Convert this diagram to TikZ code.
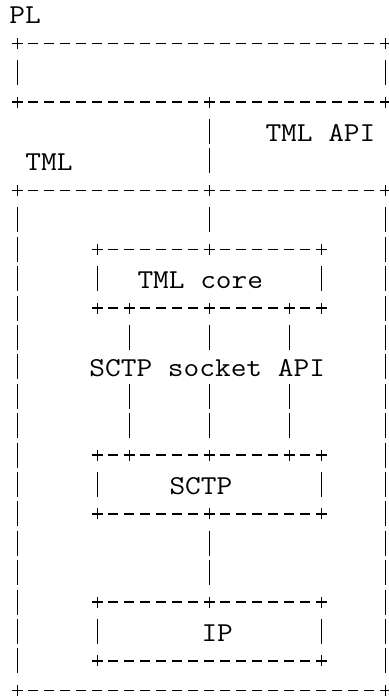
\documentclass[tikz,border=0pt]{standalone}
\usepackage{fontspec}
\usepackage{graphicx}
\usetikzlibrary{calc}
\usetikzlibrary{positioning}

\newcommand{\ascii}[1]{\scalebox{1.1165}[1]{#1}}

\tikzset{
  layerbox/.style={rectangle, draw=none, inner sep=0pt, outer sep=0pt},
  hbar/.style={line width=1.4pt, dash pattern=on 10pt off 6pt, shorten <=11pt, shorten >=11pt},
  vbar/.style={line width=1.4pt, dash pattern=on 25pt off 4.4pt, shorten <=16.9pt, shorten >=16.9pt},
  asciitext/.style={anchor=base west, inner sep=0pt, font=\ttfamily\fontsize{27.3pt}{29.4pt}\selectfont},
  junction/.pic={\draw [line width=1.4pt] (-5.5pt,0) -- (5.5pt,0) (0,-5.5pt) -- (0,5.5pt);},
}

\begin{document}
\begin{tikzpicture}[x=16pt, y=-29.4pt]
  \useasboundingbox (-1.081,-0.476) rectangle (23.169,23.231);

  % Layers:
  \node [layerbox, minimum width=368pt, minimum height=58.8pt] (pl) at (11.5,2) {};
  \node [layerbox, minimum width=368pt, minimum height=499.8pt] (tml) at (11.5,14.5) {};
  \node [layerbox, minimum width=224pt, minimum height=58.8pt] (core) at (12,9) {};
  \node [layerbox, minimum width=224pt, minimum height=58.8pt] (sctp) at (12,16) {};
  \node [layerbox, minimum width=224pt, minimum height=58.8pt] (ip) at (12,21) {};

  \foreach \b in {pl,tml,core,sctp,ip} {
    \draw [hbar] (\b.north west) -- (\b.north east);
    \draw [hbar] (\b.south west) -- (\b.south east);
    \draw [vbar] (\b.north west) -- (\b.south west);
    \draw [vbar] (\b.north east) -- (\b.south east);
    \foreach \a in {north west,north east,south west,south east}
      \pic at (\b.\a) {junction};
  }

  % Interfaces:
  \draw [vbar] (pl.south -| core.north) -- (tml.north -| core.north);
  \draw [vbar] (tml.north -| core.north) -- (core.north);
  \foreach \dx in {-80pt,0pt,80pt} {
    \draw [vbar] ([xshift=\dx]core.south) -- ([xshift=\dx]sctp.north);
    \pic at ([xshift=\dx]core.south) {junction};
    \pic at ([xshift=\dx]sctp.north) {junction};
  }
  \draw [vbar] (sctp.south) -- (ip.north);
  \foreach \p in {pl.south -| core.north, tml.north -| core.north, core.north, sctp.south, ip.north}
    \pic at (\p) {junction};

  % Texts:
  \node [asciitext] (plText) at (-0.5,0.33) {\ascii{PL}};
  \node [asciitext] (tmlApiText) at (15.5,4.33) {\ascii{TML API}};
  \node [asciitext] (tmlText) at (0.5,5.33) {\ascii{TML}};
  \node [asciitext] (coreText) at (7.5,9.33) {\ascii{TML core}};
  \node [asciitext, fill=white, inner ysep=7pt] (socketText) at (4.5,12.33) {\ascii{SCTP socket API}};
  \node [asciitext] (sctpText) at (9.5,16.33) {\ascii{SCTP}};
  \node [asciitext] (ipText) at (11.5,21.33) {\ascii{IP}};
\end{tikzpicture}
\end{document}
